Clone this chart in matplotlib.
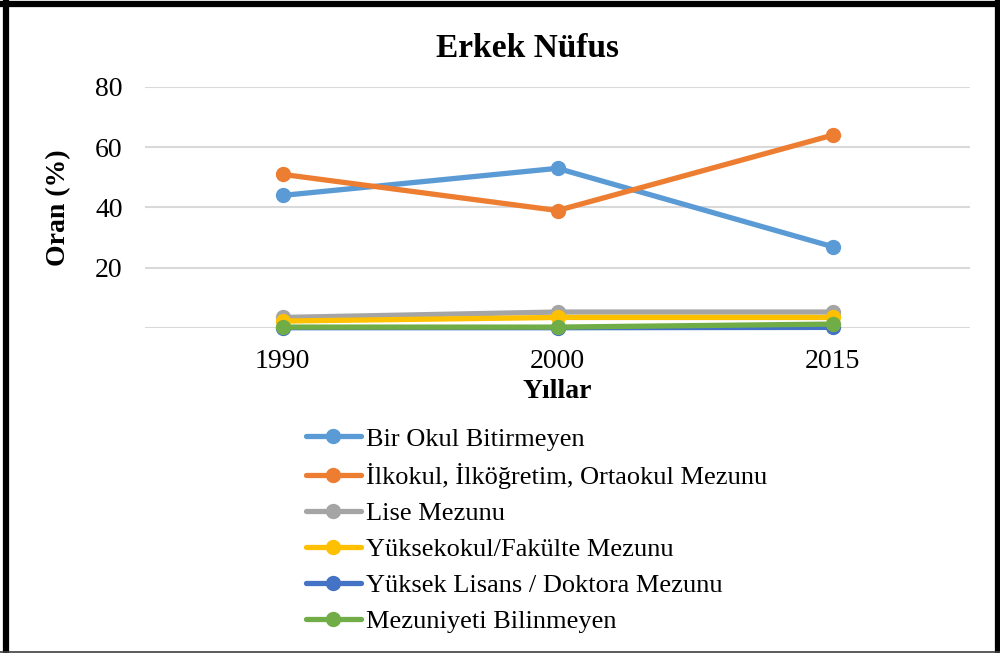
import matplotlib
matplotlib.use('Agg')
import matplotlib.pyplot as plt
from matplotlib.lines import Line2D

plt.rcParams['font.family'] = ['Liberation Serif', 'DejaVu Serif']

years = ['1990', '2000', '2015']
series_names = [
    'Bir Okul Bitirmeyen',
    'İlkokul, İlköğretim, Ortaokul Mezunu',
    'Lise Mezunu',
    'Yüksekokul/Fakülte Mezunu',
    'Yüksek Lisans / Doktora Mezunu',
    'Mezuniyeti Bilinmeyen',
]
bir_okul = [44, 53, 27]
ilkokul = [51, 39, 64]
lise = [3.5, 5.3, 5.3]
yuksekokul = [2.3, 3.5, 3.5]
yuksek_lisans = [0.1, 0.1, 0.2]
bilinmeyen = [0.3, 0.3, 1.3]
values = [bir_okul, ilkokul, lise, yuksekokul, yuksek_lisans, bilinmeyen]
colors = ['#5B9BD5', '#ED7D31', '#A5A5A5', '#FFC000', '#4472C4', '#70AD47']

fig = plt.figure(figsize=(10, 6.53), dpi=100)
ax = fig.add_axes([0.145, 0.4977, 0.825, 0.3691])

x = [0.5, 1.5, 2.5]
for name, vals, c in zip(series_names, values, colors):
    ax.plot(x, vals, color=c, lw=3.8, marker='o', markersize=10,
            label=name, solid_capstyle='round', clip_on=False)

ax.set_xlim(0, 3)
ax.set_ylim(0, 80)
ax.set_xticks(x)
ax.set_xticklabels(years)
ax.set_yticks([20, 40, 60, 80])
for v in [0, 20, 40, 60, 80]:
    ax.axhline(v, color='#D9D9D9', lw=1.5, zorder=0)
ax.tick_params(length=0, labelsize=20)
ax.tick_params(axis='x', pad=15)
ax.tick_params(axis='y', pad=16)
for s in ax.spines.values():
    s.set_visible(False)

ax.set_xlabel('Yıllar', fontsize=20, fontweight='bold', labelpad=4)
ax.set_ylabel('Oran (%)', fontsize=20, fontweight='bold', labelpad=17)
fig.text(0.527, 0.926, 'Erkek Nüfus', ha='center', va='center',
         fontsize=24, fontweight='bold')

fig.legend(loc='upper left', bbox_to_anchor=(0.295, 0.362), frameon=False,
           fontsize=19, handlelength=2.1, handletextpad=0.2,
           labelspacing=0.475, borderaxespad=0)

# outer frame: heavy on three sides, thin grey at the bottom
fig.add_artist(Line2D([0.0055, 0.0055], [0.0, 0.996], transform=fig.transFigure,
                      color='black', lw=4.5))
fig.add_artist(Line2D([0.0, 1.0], [0.9935, 0.9935], transform=fig.transFigure,
                      color='black', lw=4.5))
fig.add_artist(Line2D([0.9975, 0.9975], [0.0, 0.996], transform=fig.transFigure,
                      color='black', lw=4.5))
fig.add_artist(Line2D([0.0, 1.0], [0.002, 0.002], transform=fig.transFigure,
                      color='#404040', lw=1.2))

fig.savefig('out.png', dpi=100)
